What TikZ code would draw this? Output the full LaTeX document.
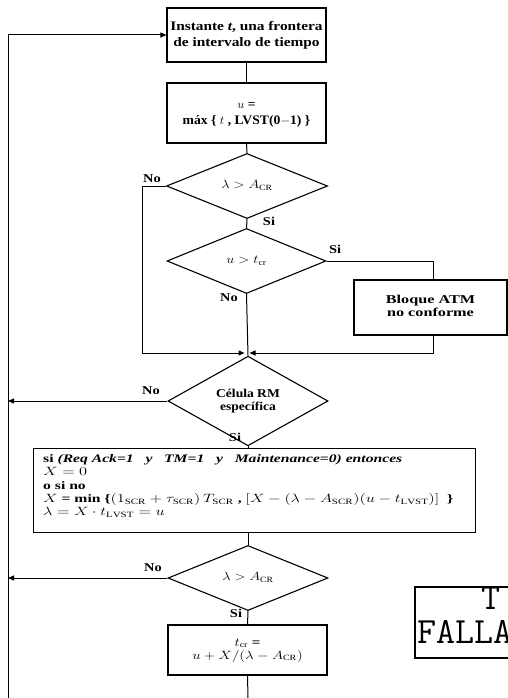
\documentclass[tikz,border=0pt]{standalone}
\usepackage{fontspec}
\usepackage{graphicx}
\setmainfont{Liberation Serif}
\usetikzlibrary{shapes.geometric,arrows.meta}
\newcommand{\wc}[2]{\scalebox{#1}[1]{\begin{tabular}{@{}c@{}}#2\end{tabular}}}
\newcommand{\wl}[2]{\scalebox{#1}[1]{\begin{tabular}{@{}l@{}}#2\end{tabular}}}
\tikzset{
  proc/.style={draw, line width=1.1pt, rectangle, inner sep=0pt, align=center,
    font=\bfseries\fontsize{12}{13}\selectfont},
  dec/.style={draw, line width=1.1pt, diamond, inner sep=0pt, align=center,
    minimum width=161pt, minimum height=65pt,
    font=\bfseries\fontsize{12}{13}\selectfont},
  conn/.style={line width=1pt},
  arr/.style={line width=1pt, -{Triangle[length=6pt,width=5pt]}},
  lab/.style={font=\bfseries\fontsize{12}{13}\selectfont, inner sep=0pt},
  stamp/.style={anchor=base west, inner sep=0pt, font=\ttfamily\fontsize{37}{37}\selectfont}
}
\begin{document}
\begin{tikzpicture}[x=1pt,y=-1pt]
\useasboundingbox (0,0) rectangle (508,698);
\fill[white] (0,0) rectangle (508,698);

% boxes
\node[proc, minimum width=159pt, minimum height=54pt,
  font=\bfseries\fontsize{13}{16}\selectfont] (b1) at (246.5,35)
  {\wc{1.18}{Instante \textit{t}, una frontera\\de intervalo de tiempo}};
\node[proc, minimum width=159pt, minimum height=60pt,
  font=\bfseries\fontsize{13}{16}\selectfont] (b2) at (246.5,113)
  {\wc{1.05}{$u$ =\\máx \{ $t$ , LVST(0$-$1) \}}};
\node[dec] (d1) at (247,186) {\wc{1.2}{$\lambda > A_{\mathrm{CR}}$}};
\node[dec, minimum width=159pt] (d2) at (246.5,261) {\wc{1.2}{$u > t_{\mathrm{cr}}$}};
\node[proc, minimum width=153pt, minimum height=55pt] (atm) at (430.5,307.5)
  {\wc{1.35}{Bloque ATM\\no conforme}};
\node[dec, minimum width=160pt] (d3) at (248,401) {\wc{1.13}{Célula RM\\específica}};
\node[proc, minimum width=442pt, minimum height=84pt, anchor=north west] (b4) at (33,448)
  {};
\node[anchor=north west, inner sep=0pt, font=\bfseries\fontsize{11.5}{13.3}\selectfont] (b4t) at (43,453)
  {\wl{1.36}{si \textit{(Req Ack=1 \ \ y \ \ TM=1 \ \ y \ \ Maintenance=0) entonces}\\
   $X=0$\\
   o si no\\
   $X$ = min \{$(1_{\mathrm{SCR}}+\tau_{\mathrm{SCR}})\,T_{\mathrm{SCR}}$ , $[X-(\lambda-A_{\mathrm{SCR}})(u-t_{\mathrm{LVST}})]$ \ \}\\
   $\lambda = X\cdot t_{\mathrm{LVST}} = u$}};
\node[dec, minimum width=160pt] (d4) at (248,578) {\wc{1.2}{$\lambda > A_{\mathrm{CR}}$}};
\node[proc, minimum width=159pt, minimum height=50pt] (b5) at (247.5,650)
  {\wc{1.25}{$t_{\mathrm{cr}}$ =\\$u+X/(\lambda-A_{\mathrm{CR}})$}};

% coordinates
\coordinate (lb) at (8,698);
\coordinate (bb) at (248,698);
\coordinate (jn) at (247,353);
\coordinate (nl) at (142,186);
\coordinate (sr) at (433,261);

% connectors
\draw[arr] (lb) |- (b1.west);
\draw[conn] (b1.south) -- (b2.north);
\draw[conn] (b2.south) -- (d1.north);
\draw[conn] (d1.south) -- (d2.north);
\draw[arr] (d1.west) -- (nl) -- (nl |- jn) -- ([xshift=-2.5pt]jn);
\draw[conn] (d2.east) -- (sr) -- (atm.north -| sr);
\draw[arr] (atm.south -| sr) -- (sr |- jn) -- ([xshift=2.5pt]jn);
\draw[conn] (d2.south) -- (d3.north);
\draw[arr] (d3.west) -- (d3.west -| lb);
\draw[conn] (d3.south) -- (d3.south |- b4.north);
\draw[conn] (d4.north |- b4.south) -- (d4.north);
\draw[arr] (d4.west) -- (d4.west -| lb);
\draw[conn] (d4.south) -- (b5.north);
\draw[conn] (b5.south) -- (bb);

% labels
\node[lab] (l1) at (152,180) {\wc{1.2}{No}};
\node[lab] (l2) at (269,223) {\wc{1.2}{Si}};
\node[lab] (l3) at (335,251) {\wc{1.2}{Si}};
\node[lab] (l4) at (229,299) {\wc{1.2}{No}};
\node[lab] (l5) at (151,392) {\wc{1.2}{No}};
\node[lab] (l6) at (235,439) {\wc{1.2}{Si}};
\node[lab] (l7) at (153,569) {\wc{1.2}{No}};
\node[lab] (l8) at (236,615) {\wc{1.2}{Si}};

% stamp (cut off at the page edge, as in the reference)
\begin{scope}
\clip (0,0) rectangle (508,698);
\draw[line width=1.2pt] (415,587) rectangle (540,658);
\node[stamp] (st1) at (481,609) {T};
\node[stamp] (st2) at (417,643) {FALLA};
\end{scope}
\end{tikzpicture}
\end{document}
